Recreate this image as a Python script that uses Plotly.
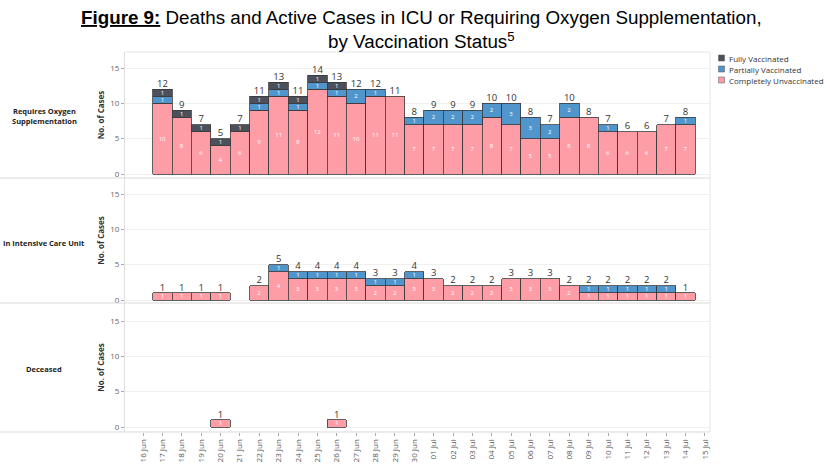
import plotly.graph_objects as go
from plotly.subplots import make_subplots

dates = ["16 Jun", "17 Jun", "18 Jun", "19 Jun", "20 Jun", "21 Jun", "22 Jun", "23 Jun",
         "24 Jun", "25 Jun", "26 Jun", "27 Jun", "28 Jun", "29 Jun", "30 Jun", "01 Jul",
         "02 Jul", "03 Jul", "04 Jul", "05 Jul", "06 Jul", "07 Jul", "08 Jul", "09 Jul",
         "10 Jul", "11 Jul", "12 Jul", "13 Jul", "14 Jul", "15 Jul"]

# Requires Oxygen Supplementation
oxy_unvax = [0, 10, 8, 6, 4, 6, 9, 11, 9, 12, 11, 10, 11, 11, 7, 7, 7, 7, 8, 7, 5, 5, 8, 8, 6, 6, 6, 7, 7, 0]
oxy_part  = [0, 1, 0, 0, 0, 0, 1, 1, 1, 1, 1, 2, 1, 0, 1, 2, 2, 2, 2, 3, 3, 2, 2, 0, 1, 0, 0, 0, 1, 0]
oxy_full  = [0, 1, 1, 1, 1, 1, 1, 1, 1, 1, 1, 0, 0, 0, 0, 0, 0, 0, 0, 0, 0, 0, 0, 0, 0, 0, 0, 0, 0, 0]

# In Intensive Care Unit
icu_unvax = [0, 1, 1, 1, 1, 0, 2, 4, 3, 3, 3, 3, 2, 2, 3, 3, 2, 2, 2, 3, 3, 3, 2, 1, 1, 1, 1, 1, 1, 0]
icu_part  = [0, 0, 0, 0, 0, 0, 0, 1, 1, 1, 1, 1, 1, 1, 1, 0, 0, 0, 0, 0, 0, 0, 0, 1, 1, 1, 1, 1, 0, 0]
icu_full  = [0] * 30

# Deceased
dec_unvax = [0, 0, 0, 0, 1, 0, 0, 0, 0, 0, 1, 0, 0, 0, 0, 0, 0, 0, 0, 0, 0, 0, 0, 0, 0, 0, 0, 0, 0, 0]
dec_part  = [0] * 30
dec_full  = [0] * 30

row_names = ["Requires Oxygen<br>Supplementation", "In Intensive Care Unit", "Deceased"]
series_names = ["Completely Unvaccinated", "Partially Vaccinated", "Fully Vaccinated"]
legend_order = ["Fully Vaccinated", "Partially Vaccinated", "Completely Unvaccinated"]
colors = {"Completely Unvaccinated": "#FF9DA7",
          "Partially Vaccinated": "#5095CC",
          "Fully Vaccinated": "#4B505B"}
y_ticks = [0, 5, 10, 15]

panels = [
    [oxy_unvax, oxy_part, oxy_full],
    [icu_unvax, icu_part, icu_full],
    [dec_unvax, dec_part, dec_full],
]

W, H = 830, 468
L, R, T, B = 125, 120, 52, 36
PW, PH = W - L - R, H - T - B
bottom_px = T + PH  # 432
sep_px = [T, 178, 303, bottom_px]


def py(px):
    return (bottom_px - px) / PH


def pxx(px):
    return (px - L) / PW


fig = make_subplots(rows=3, cols=1, shared_xaxes=True, vertical_spacing=0)

for r, series in enumerate(panels, start=1):
    for name, vals in zip(series_names, series):
        yv = [v if v > 0 else None for v in vals]
        tv = [str(v) if v > 0 else "" for v in vals]
        fig.add_trace(go.Bar(
            x=dates, y=yv, name=name, text=tv, textposition="inside",
            insidetextanchor="middle", constraintext="none", textangle=0,
            textfont=dict(size=6, color="white", family="Open Sans"),
            marker=dict(color=colors[name], line=dict(color="#3a3a3a", width=0.8)),
            showlegend=False, hoverinfo="skip", cliponaxis=False,
        ), row=r, col=1)
    totals = [a + b + c for a, b, c in zip(*series)]
    fig.add_trace(go.Scatter(
        x=dates, y=[t if t > 0 else None for t in totals],
        text=[str(t) if t > 0 else "" for t in totals],
        mode="text", textposition="top center",
        textfont=dict(size=9.5, color="#333333", family="Open Sans"),
        showlegend=False, hoverinfo="skip", cliponaxis=False,
    ), row=r, col=1)

# panel domains and ranges
scale = 106 / 15.0
for r in range(1, 4):
    top_px, bot_px = sep_px[r - 1], sep_px[r]
    zero_px = {1: 174, 2: 300, 3: 427}[r]
    lo = -(bot_px - zero_px) / scale
    hi = (zero_px - top_px) / scale
    yname = "yaxis" if r == 1 else f"yaxis{r}"
    fig.layout[yname].update(
        domain=[py(bot_px), py(top_px)], range=[lo, hi],
        tickvals=y_ticks, ticks="outside", ticklen=3, tickcolor="#aaaaaa",
        tickfont=dict(size=8, color="#666666", family="Open Sans"),
        showgrid=True, gridcolor="#f0f0f0", gridwidth=1, zeroline=False,
        showline=True, linecolor="#e0e0e0", linewidth=1,
        title=dict(text="<b>No. of Cases</b>", standoff=4,
                   font=dict(size=8, color="#333333", family="Open Sans")),
        fixedrange=True, automargin=False,
    )
    xname = "xaxis" if r == 1 else f"xaxis{r}"
    fig.layout[xname].update(
        type="category", range=[-0.93, 29.26], showgrid=False, zeroline=False,
        showline=False, categoryorder="array", categoryarray=dates,
        automargin=False, fixedrange=True,
    )

fig.layout["xaxis3"].update(
    tickangle=-90, ticks="outside", ticklen=3, tickcolor="#aaaaaa",
    tickfont=dict(size=8, color="#555555", family="Open Sans"),
    showticklabels=True,
)
fig.layout["xaxis"].update(showticklabels=False)
fig.layout["xaxis2"].update(showticklabels=False)

shapes = []
for px_ in [178, 303, bottom_px]:
    shapes.append(dict(type="line", xref="paper", yref="paper",
                       x0=-L / PW, x1=1, y0=py(px_), y1=py(px_),
                       line=dict(color="#d9d9d9", width=1)))
shapes.append(dict(type="line", xref="paper", yref="paper",
                   x0=0, x1=1, y0=1, y1=1, line=dict(color="#e6e6e6", width=1)))
shapes.append(dict(type="line", xref="paper", yref="paper",
                   x0=1, x1=1, y0=0, y1=1, line=dict(color="#e6e6e6", width=1)))

annotations = []
label_y = [116, 243, 369]
for name, ly in zip(row_names, label_y):
    annotations.append(dict(
        text=f"<b>{name}</b>", xref="paper", yref="paper",
        x=pxx(44), y=py(ly), showarrow=False, xanchor="center", yanchor="middle",
        font=dict(size=7.5, color="#222222", family="Open Sans"), align="center",
    ))

# legend (drawn manually for compact layout)
leg_rows = [58, 69, 80]
for name, ly in zip(legend_order, leg_rows):
    shapes.append(dict(type="rect", xref="paper", yref="paper",
                       x0=pxx(718.5), x1=pxx(724.5), y0=py(ly + 3), y1=py(ly - 3),
                       fillcolor=colors[name], line=dict(color="#555555", width=0.5)))
    annotations.append(dict(
        text=name, xref="paper", yref="paper", x=pxx(727), y=py(ly),
        xanchor="left", yanchor="middle", showarrow=False,
        font=dict(size=8, color="#333333", family="Open Sans"),
    ))

annotations.append(dict(
    text="<b><u>Figure 9:</u></b> Deaths and Active Cases in ICU or Requiring Oxygen Supplementation,<br>by Vaccination Status<sup>5</sup>",
    xref="paper", yref="paper", x=pxx(421), y=py(5), xanchor="center", yanchor="top",
    showarrow=False, align="center",
    font=dict(size=18.8, color="#000000", family="Liberation Sans"),
))

fig.update_layout(
    width=W, height=H,
    margin=dict(l=L, r=R, t=T, b=B, autoexpand=False),
    paper_bgcolor="white", plot_bgcolor="white",
    barmode="stack", bargap=0,
    shapes=shapes,
    annotations=annotations,
    showlegend=False,
    hovermode=False,
)

fig.write_html("out.html", config={"displayModeBar": False, "staticPlot": True},
               post_script="document.body.style.margin='0px';")
